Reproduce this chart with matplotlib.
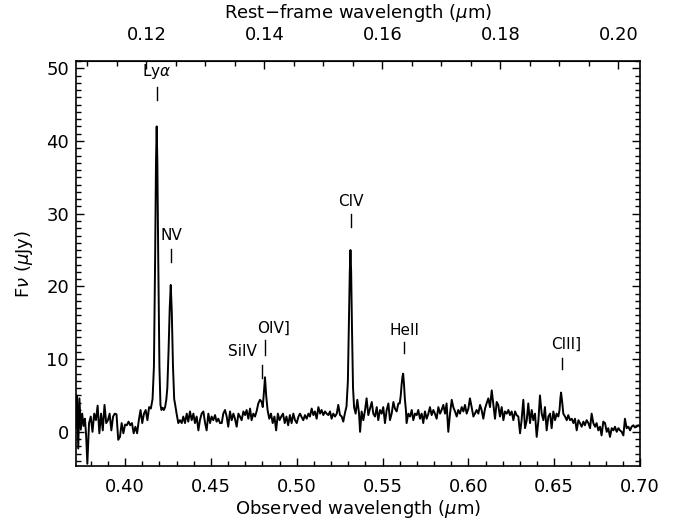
import matplotlib
matplotlib.use("Agg")
import matplotlib.pyplot as plt
from matplotlib.ticker import MultipleLocator, FormatStrFormatter, FixedLocator

plt.rcParams['font.family'] = ['DejaVu Sans']
plt.rcParams['mathtext.fontset'] = 'dejavusans'

# observed wavelength (micron) and flux density (micro-Jy)
wave = [
    0.3712, 0.3720, 0.3727, 0.3734, 0.3742, 0.3750, 0.3758, 0.3766, 0.3773, 0.3780,
    0.3790, 0.3800, 0.3810, 0.3820, 0.3830, 0.3840, 0.3850, 0.3860, 0.3870, 0.3880,
    0.3890, 0.3900, 0.3910, 0.3920, 0.3930, 0.3940, 0.3950, 0.3960, 0.3970, 0.3980,
    0.3990, 0.4000, 0.4010, 0.4020, 0.4030, 0.4040, 0.4050, 0.4060, 0.4070, 0.4080,
    0.4090, 0.4100, 0.4110, 0.4120, 0.4130, 0.4140, 0.4150, 0.4160,
    0.4168, 0.4175, 0.4180, 0.4184, 0.4188, 0.4193, 0.4200, 0.4206,
    0.4212, 0.4219, 0.4226, 0.4233, 0.4240,
    0.4246, 0.4253, 0.4260, 0.4266, 0.4272, 0.4279, 0.4286,
    0.4292, 0.4300, 0.4310, 0.4320, 0.4330, 0.4339, 0.4349, 0.4359, 0.4368, 0.4378,
    0.4388, 0.4398, 0.4407, 0.4417, 0.4427, 0.4436, 0.4446, 0.4456, 0.4466, 0.4475,
    0.4485, 0.4495, 0.4504, 0.4514, 0.4524, 0.4533, 0.4543, 0.4553, 0.4563, 0.4572,
    0.4582, 0.4592, 0.4601, 0.4611, 0.4621, 0.4631, 0.4640, 0.4650, 0.4660, 0.4669,
    0.4679, 0.4689, 0.4699, 0.4708, 0.4718, 0.4728, 0.4737, 0.4747, 0.4757, 0.4766,
    0.4776, 0.4786, 0.4796, 0.4802,
    0.4809, 0.4815, 0.4822, 0.4830,
    0.4840, 0.4850, 0.4860, 0.4870, 0.4880, 0.4890, 0.4900, 0.4910, 0.4920, 0.4930,
    0.4940, 0.4950, 0.4960, 0.4970, 0.4980, 0.4990, 0.5000, 0.5010, 0.5019, 0.5029,
    0.5038, 0.5048, 0.5058, 0.5068, 0.5077, 0.5087, 0.5097, 0.5106, 0.5116, 0.5126,
    0.5136, 0.5145, 0.5155, 0.5165, 0.5174, 0.5184, 0.5194, 0.5203, 0.5213, 0.5223,
    0.5233, 0.5242, 0.5252, 0.5262, 0.5271, 0.5281,
    0.5290, 0.5298, 0.5304, 0.5309, 0.5313, 0.5317, 0.5322, 0.5328, 0.5334,
    0.5343, 0.5353, 0.5363, 0.5369, 0.5378, 0.5388, 0.5398, 0.5407, 0.5417, 0.5427,
    0.5437, 0.5446, 0.5456, 0.5466, 0.5475, 0.5485, 0.5495, 0.5504, 0.5514, 0.5524,
    0.5534, 0.5543, 0.5553, 0.5563, 0.5572, 0.5582, 0.5592, 0.5600,
    0.5606, 0.5611, 0.5616, 0.5620, 0.5625, 0.5630, 0.5636,
    0.5640, 0.5650, 0.5660, 0.5670, 0.5679, 0.5689, 0.5699, 0.5708, 0.5718, 0.5728,
    0.5737, 0.5747, 0.5757, 0.5767, 0.5776, 0.5786, 0.5796, 0.5805, 0.5815, 0.5825,
    0.5835, 0.5844, 0.5854, 0.5864, 0.5873, 0.5883, 0.5893, 0.5903, 0.5912, 0.5922,
    0.5932, 0.5941, 0.5951, 0.5961, 0.5971, 0.5980, 0.5990, 0.6000, 0.6009, 0.6019,
    0.6029, 0.6038, 0.6048, 0.6058, 0.6068, 0.6077, 0.6087, 0.6097, 0.6106, 0.6116,
    0.6126, 0.6136, 0.6145, 0.6155, 0.6165, 0.6174, 0.6184, 0.6194, 0.6204, 0.6213,
    0.6223, 0.6233, 0.6242, 0.6252, 0.6262, 0.6272, 0.6281, 0.6291, 0.6301, 0.6310,
    0.6320, 0.6330, 0.6340, 0.6349, 0.6359, 0.6369, 0.6378, 0.6388, 0.6398, 0.6408,
    0.6417, 0.6427, 0.6437, 0.6446, 0.6456, 0.6466, 0.6476, 0.6485, 0.6495, 0.6505,
    0.6514, 0.6524, 0.6531,
    0.6536, 0.6540, 0.6546,
    0.6553, 0.6563, 0.6573, 0.6582, 0.6592, 0.6602, 0.6612, 0.6621, 0.6631, 0.6641,
    0.6650, 0.6660, 0.6670, 0.6679, 0.6689, 0.6699, 0.6709, 0.6718, 0.6728, 0.6738,
    0.6747, 0.6757, 0.6767, 0.6776, 0.6786, 0.6796, 0.6806, 0.6815, 0.6825, 0.6835,
    0.6845, 0.6854, 0.6864, 0.6874, 0.6883, 0.6893, 0.6903, 0.6912, 0.6922, 0.6932,
    0.6942, 0.6951, 0.6961, 0.6970, 0.6980, 0.6990, 0.7000,
]
flux = [
    0.5, 5.0, -2.3, 4.6, 0.3, 2.5, 0.8, 1.8, -0.5, -4.4,
    1.2, 2.1, 0.0, 2.5, 1.6, 3.6, -0.2, 2.5, 0.2, 3.7,
    1.2, 1.6, 2.5, 0.2, 2.1, 2.5, 2.4, -1.1, -0.7, 1.2,
    -0.2, 1.0, 0.9, 1.4, 0.9, 1.2, -0.2, 0.7, -0.2, 1.6,
    3.0, 1.2, 2.5, 3.0, 1.6, 3.4, 3.2, 4.5,
    9.0, 24.0, 37.0, 42.0, 37.0, 24.0, 9.0, 3.7,
    3.0, 3.3, 3.0, 3.4, 4.4,
    6.0, 11.0, 17.0, 20.2, 16.5, 9.0, 4.5,
    3.7, 2.5, 1.2, 1.6, 1.2, 2.1, 1.2, 2.5, 1.4, 2.8,
    1.6, 2.5, 1.2, 2.1, 0.2, 1.6, 2.5, 2.8, 1.2, 0.2,
    2.5, 1.2, 2.1, 1.6, 2.3, 1.4, 1.8, 1.2, 1.2, 2.5,
    3.0, 2.1, 0.7, 2.8, 1.6, 2.5, 1.8, 0.7, 2.5, 2.1,
    1.6, 2.8, 2.3, 3.0, 1.8, 3.2, 1.6, 2.5, 2.1, 2.8,
    3.9, 4.4, 4.1, 3.4,
    5.5, 7.5, 5.0, 3.0,
    1.8, 2.5, 1.2, 2.1, 0.2, 2.5, 1.6, 2.1, 2.5, 1.2,
    2.1, 0.9, 2.3, 1.2, 2.5, 1.6, 1.2, 2.1, 2.5, 2.0,
    1.6, 2.3, 1.8, 2.5, 2.1, 3.2, 2.3, 2.8, 1.8, 3.4,
    2.5, 3.0, 2.3, 2.8, 2.5, 2.3, 2.8, 1.8, 2.5, 2.1,
    2.5, 3.7, 2.3, 2.1, 1.4, 2.6,
    3.5, 7.0, 15.0, 22.0, 25.0, 22.0, 14.0, 6.0, 3.4,
    2.5, 4.4, 2.5, 0.0, 2.8, 1.6, 3.0, 4.6, 2.3, 3.2,
    4.1, 2.5, 2.1, 3.4, 1.6, 3.0, 2.5, 3.4, 1.2, 3.0,
    3.9, 1.6, 2.5, 4.1, 3.2, 2.8, 3.9, 3.9,
    5.0, 6.5, 7.6, 8.0, 6.5, 4.5, 3.0,
    1.2, 2.5, 2.1, 3.0, 1.6, 2.5, 2.3, 3.0, 1.8, 2.5,
    1.2, 2.8, 1.8, 2.5, 3.4, 2.3, 3.0, 2.5, 1.8, 3.4,
    2.5, 3.0, 3.7, 2.5, 3.9, 0.0, 2.5, 4.4, 3.4, 2.8,
    2.1, 3.0, 2.5, 3.4, 2.8, 3.7, 2.5, 3.2, 4.6, 3.4,
    2.1, 2.5, 3.0, 2.5, 3.7, 3.0, 1.8, 3.2, 3.9, 4.6,
    3.4, 5.7, 3.9, 1.8, 4.1, 3.7, 2.1, 3.4, 1.6, 2.8,
    2.5, 3.0, 2.3, 2.8, 1.6, 2.8, 2.3, 2.1, -0.2, 1.6,
    4.4, 0.5, 1.6, 3.9, 1.2, 3.0, 1.6, 2.5, -0.7, 1.6,
    5.0, 2.5, 1.6, 3.4, 0.2, 2.1, 2.5, 0.5, 2.8, 1.6,
    2.5, 2.1, 3.0,
    4.6, 5.4, 4.2,
    2.5, 2.1, 1.6, 2.3, 1.6, 1.8, 1.2, 1.8, 0.2, 1.6,
    1.2, 0.7, 1.4, 0.9, 1.6, 1.2, 0.5, 2.5, 1.2, 0.7,
    1.2, 0.2, 0.7, -0.5, 1.4, 1.2, 0.0, 0.5, -0.7, 0.5,
    0.2, 0.7, 0.0, 0.5, 0.2, 0.0, -0.5, 1.8, 0.5, 0.7,
    0.2, 0.7, 0.9, 0.6, 0.7, 0.9, 0.7,
]

# emission line labels: name, wavelength of marker, marker bottom/top, label x, label y
line_names = [r'Ly$\alpha$', 'NV', 'SiIV', 'OIV]', 'CIV', 'HeII', 'CIII]']
line_waves = [0.4185, 0.4267, 0.4798, 0.4815, 0.5316, 0.5625, 0.6544]
mark_lo = [45.6, 23.4, 7.4, 10.6, 28.2, 10.9, 8.6]
mark_hi = [47.4, 25.2, 9.2, 12.6, 30.0, 12.4, 10.1]
label_x = [0.4185, 0.4267, 0.4770, 0.4767, 0.5316, 0.5625, 0.6572]
label_y = [49.6, 27.0, 11.0, 14.2, 31.7, 14.0, 12.0]
label_ha = ['center', 'center', 'right', 'left', 'center', 'center', 'center']

rest_ticks = [0.12, 0.14, 0.16, 0.18, 0.20]
one_plus_z = 3.437

fig = plt.figure(figsize=(6.78, 5.21), dpi=100)
ax = fig.add_axes([0.1121, 0.1056, 0.8319, 0.7773])

ax.plot(wave, flux, color='black', lw=1.4)

for name, w, lo, hi, lx, ly, ha in zip(line_names, line_waves, mark_lo, mark_hi,
                                        label_x, label_y, label_ha):
    ax.plot([w, w], [lo, hi], color='black', lw=1.0)
    ax.text(lx, ly, name, ha=ha, va='center', fontsize=11)

ax.set_xlim(0.3714, 0.700)
ax.set_ylim(-4.7, 51.0)

ax.xaxis.set_major_locator(MultipleLocator(0.05))
ax.xaxis.set_minor_locator(MultipleLocator(0.01))
ax.xaxis.set_major_formatter(FormatStrFormatter('%.2f'))
ax.yaxis.set_major_locator(MultipleLocator(10))
ax.yaxis.set_minor_locator(MultipleLocator(1))

ax.tick_params(which='both', direction='in', top=False, right=True, width=1.0,
               labelsize=13)
ax.tick_params(which='major', length=6)
ax.tick_params(which='minor', length=3.5)
ax.tick_params(axis='x', pad=9)
ax.tick_params(axis='y', pad=5)
for sp in ax.spines.values():
    sp.set_linewidth(1.2)

ax.set_xlabel(r'Observed wavelength ($\mu$m)', fontsize=13, labelpad=1)
ax.set_ylabel(r'F$\nu$ ($\mu$Jy)', fontsize=13, labelpad=8)

top = ax.secondary_xaxis('top', functions=(lambda w: w / one_plus_z,
                                            lambda r: r * one_plus_z))
top.xaxis.set_major_locator(FixedLocator(rest_ticks))
top.xaxis.set_minor_locator(MultipleLocator(0.005))
top.xaxis.set_major_formatter(FormatStrFormatter('%.2f'))
top.tick_params(which='both', direction='in', width=1.0, labelsize=13, pad=12)
top.tick_params(which='major', length=6)
top.tick_params(which='minor', length=3.5)
top.set_xlabel(r'Rest$-$frame wavelength ($\mu$m)', fontsize=13, labelpad=6)

fig.savefig('out.png', dpi=100)
